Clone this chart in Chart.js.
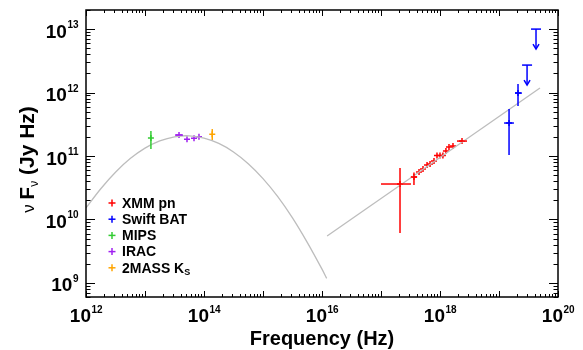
<!DOCTYPE html>
<html>
<head>
<meta charset="utf-8">
<script src="https://cdn.jsdelivr.net/npm/chart.js@4"></script>
<style>
  html, body { margin: 0; padding: 0; background: #fff; }
  #wrap { width: 583px; height: 350px; position: relative; }
</style>
</head>
<body>
<div id="wrap"><canvas id="sed"></canvas></div>
<script>
// dust model (grey curve)
const modelFreq = [1e12, 1.78e12, 3.16e12, 5.62e12, 1e13, 1.78e13, 3.16e13, 5.62e13, 1e14,
                   1.78e14, 3.16e14, 5.62e14, 1e15, 1.78e15, 3.16e15, 5.62e15, 1e16, 1.2e16];
const modelFlux = [1.52e10, 3.05e10, 5.55e10, 9.10e10, 1.33e11, 1.73e11, 2.01e11, 2.08e11, 1.92e11,
                   1.58e11, 1.16e11, 7.57e10, 4.41e10, 2.29e10, 1.06e10, 4.36e9, 1.65e9, 1.18e9];
// power law (grey line)
const plFreq = [1.22e16, 4.95e19];
const plFlux = [5.5e9, 1.18e12];

// XMM pn
const xmmFreq = [2.10e17, 3.62e17, 4.41e17, 5.15e17, 6.03e17, 6.78e17, 7.91e17, 8.89e17,
                 1.0e18, 1.12e18, 1.26e18, 1.42e18, 1.66e18, 2.36e18];
const xmmFlux = [3.62e10, 4.67e10, 5.60e10, 6.24e10, 7.21e10, 7.48e10, 8.34e10, 1.02e11,
                 1.02e11, 1.02e11, 1.20e11, 1.39e11, 1.44e11, 1.72e11];
const xmmFreqLo = [1.0e17, 3.2e17, null, null, null, null, null, null, null, null, null, null, null, 1.94e18];
const xmmFreqHi = [3.22e17, 4.1e17, null, null, null, null, null, null, null, null, null, null, null, 2.87e18];
const xmmFluxLo = [6.12e9, 3.5e10, null, null, null, null, null, null, null, null, null, null, null, null];
const xmmFluxHi = [6.47e10, 5.5e10, null, null, null, null, null, null, null, null, null, null, null, null];

// Swift BAT
const batFreq = [1.48e19, 2.10e19];
const batFlux = [3.31e11, 9.82e11];
const batFreqLo = [1.22e19, 1.87e19];
const batFreqHi = [1.79e19, 2.45e19];
const batFluxLo = [1.04e11, 6.12e11];
const batFluxHi = [5.5e11, 1.36e12];
const batLimFreq = [2.99e19, 4.24e19];
const batLimFlux = [2.71e12, 1.0e13];

// MIPS 24um
const mipsFreq = [1.26e13];
const mipsFlux = [1.92e11];
const mipsFluxLo = [1.29e11];
const mipsFluxHi = [2.48e11];

// IRAC
const iracFreq = [3.77e13, 5.15e13, 6.77e13, 8.22e13];
const iracFlux = [2.14e11, 1.83e11, 1.90e11, 2.01e11];
const iracFreqLo = [3.22e13, null, null, null];
const iracFreqHi = [4.41e13, null, null, null];

// 2MASS Ks
const tmFreq = [1.38e14];
const tmFlux = [2.20e11];
const tmFluxLo = [1.79e11];
const tmFluxHi = [2.66e11];

const legendNames = ['XMM pn', 'Swift BAT', 'MIPS', 'IRAC', '2MASS K'];
const legendColors = ['#ff0000', '#0000ff', '#33cc33', '#a020f0', '#ffa500'];

const FONT = '"Liberation Sans", Arial, sans-serif';

function pts(xs, ys) { return xs.map((x, i) => ({ x: x, y: ys[i] })); }

function crossSet(label, xs, ys, color) {
    return {
        label: label, data: pts(xs, ys), showLine: false,
        pointStyle: 'cross', pointRadius: 3, pointBorderWidth: 1.5,
        borderColor: color, backgroundColor: color
    };
}

function line(ctx, x1, y1, x2, y2) {
    ctx.beginPath(); ctx.moveTo(x1, y1); ctx.lineTo(x2, y2); ctx.stroke();
}

function errBars(chart, xs, ys, xLo, xHi, yLo, yHi, color) {
    const ctx = chart.ctx, sx = chart.scales.x, sy = chart.scales.y;
    ctx.save();
    ctx.strokeStyle = color; ctx.lineWidth = 1.5;
    xs.forEach((x, i) => {
        const px = sx.getPixelForValue(x), py = sy.getPixelForValue(ys[i]);
        if (xLo && xLo[i] != null) line(ctx, sx.getPixelForValue(xLo[i]), py, sx.getPixelForValue(xHi[i]), py);
        if (yLo && yLo[i] != null) line(ctx, px, sy.getPixelForValue(yLo[i]), px, sy.getPixelForValue(yHi[i]));
    });
    ctx.restore();
}

function logTicks(min, max) {
    const out = [];
    for (let e = Math.floor(Math.log10(min)); e <= Math.ceil(Math.log10(max)); e++) {
        for (let m = 1; m <= 9; m++) {
            const v = m * Math.pow(10, e);
            if (v >= min * 0.999 && v <= max * 1.001) out.push({ v: v, major: m === 1, e: e });
        }
    }
    return out;
}

// "10" with superscript exponent
function powLabel(ctx, e, x, y, align, big, small) {
    ctx.font = 'bold ' + big + 'px ' + FONT;
    const w1 = ctx.measureText('10').width;
    ctx.font = 'bold ' + small + 'px ' + FONT;
    const w2 = ctx.measureText(String(e)).width;
    let x0 = align === 'center' ? x - (w1 + w2) / 2 : x - w1 - w2;
    ctx.textAlign = 'left'; ctx.textBaseline = 'alphabetic';
    ctx.font = 'bold ' + big + 'px ' + FONT;
    ctx.fillText('10', x0, y);
    ctx.font = 'bold ' + small + 'px ' + FONT;
    ctx.fillText(String(e), x0 + w1 + 0.5, y - big * 0.5);
}

const overlay = {
    id: 'overlay',
    afterDatasetsDraw(chart) {
        errBars(chart, xmmFreq, xmmFlux, xmmFreqLo, xmmFreqHi, xmmFluxLo, xmmFluxHi, legendColors[0]);
        errBars(chart, batFreq, batFlux, batFreqLo, batFreqHi, batFluxLo, batFluxHi, legendColors[1]);
        errBars(chart, mipsFreq, mipsFlux, null, null, mipsFluxLo, mipsFluxHi, legendColors[2]);
        errBars(chart, iracFreq, iracFlux, iracFreqLo, iracFreqHi, null, null, legendColors[3]);
        errBars(chart, tmFreq, tmFlux, null, null, tmFluxLo, tmFluxHi, legendColors[4]);

        // BAT upper limits
        const ctx = chart.ctx, sx = chart.scales.x, sy = chart.scales.y;
        ctx.save();
        ctx.strokeStyle = legendColors[1]; ctx.lineWidth = 1.5;
        batLimFreq.forEach((f, i) => {
            const px = sx.getPixelForValue(f), py = sy.getPixelForValue(batLimFlux[i]);
            line(ctx, px - 5, py, px + 5, py);
            line(ctx, px, py, px, py + 20);
            ctx.beginPath();
            ctx.moveTo(px - 3, py + 15); ctx.lineTo(px, py + 20); ctx.lineTo(px + 3, py + 15);
            ctx.stroke();
        });
        ctx.restore();
    },
    afterDraw(chart) {
        const ctx = chart.ctx, a = chart.chartArea, sx = chart.scales.x, sy = chart.scales.y;
        ctx.save();
        ctx.fillStyle = '#000'; ctx.strokeStyle = '#000';

        // inward ticks on all four sides
        ctx.lineWidth = 1;
        logTicks(sx.min, sx.max).forEach(t => {
            const px = Math.round(sx.getPixelForValue(t.v)) + 0.5;
            const len = t.major ? 6 : 3;
            line(ctx, px, a.bottom, px, a.bottom - len);
            line(ctx, px, a.top, px, a.top + len);
        });
        logTicks(sy.min, sy.max).forEach(t => {
            const py = Math.round(sy.getPixelForValue(t.v)) + 0.5;
            const len = t.major ? 9 : 4.5;
            line(ctx, a.left, py, a.left + len, py);
            line(ctx, a.right, py, a.right - len, py);
        });

        // frame
        ctx.lineWidth = 1.5;
        ctx.strokeRect(a.left, a.top, a.right - a.left, a.bottom - a.top);

        // tick labels
        for (let e = 12; e <= 20; e += 2) {
            powLabel(ctx, e, sx.getPixelForValue(Math.pow(10, e)), a.bottom + 25, 'center', 19, 10);
        }
        for (let e = 9; e <= 13; e++) {
            powLabel(ctx, e, a.left - 8, sy.getPixelForValue(Math.pow(10, e)) + 8.5, 'right', 19, 10);
        }

        // axis titles
        ctx.font = 'bold 20px ' + FONT;
        ctx.textAlign = 'center'; ctx.textBaseline = 'alphabetic';
        ctx.fillText('Frequency (Hz)', (a.left + a.right) / 2, 345);

        ctx.save();
        ctx.translate(34, (a.top + a.bottom) / 2 + 6);
        ctx.rotate(-Math.PI / 2);
        const parts = [['ν ', 'normal 17px ', 0], ['F', 'bold 21px ', 0], ['ν', 'normal 12px ', 4],
                       [' (Jy Hz)', 'bold 21px ', 0]];
        let total = 0;
        parts.forEach(p => { ctx.font = p[1] + FONT; total += ctx.measureText(p[0]).width; });
        let cx = -total / 2;
        ctx.textAlign = 'left';
        parts.forEach(p => {
            ctx.font = p[1] + FONT;
            ctx.fillText(p[0], cx, p[2]);
            cx += ctx.measureText(p[0]).width;
        });
        ctx.restore();

        // legend
        legendNames.forEach((name, i) => {
            const y = 203 + i * 16.2;
            const lx = a.left + 26;
            ctx.strokeStyle = legendColors[i]; ctx.lineWidth = 1.5;
            line(ctx, lx - 3.5, y, lx + 3.5, y);
            line(ctx, lx, y - 3.5, lx, y + 3.5);
            ctx.fillStyle = '#000';
            ctx.font = 'bold 14px ' + FONT;
            ctx.textAlign = 'left'; ctx.textBaseline = 'middle';
            ctx.fillText(name, lx + 10, y + 1);
            if (i === 4) {
                const w = ctx.measureText(name).width;
                ctx.font = 'bold 9px ' + FONT;
                ctx.fillText('S', lx + 10 + w, y + 5);
            }
        });
        ctx.restore();
    }
};

new Chart(document.getElementById('sed'), {
    type: 'scatter',
    data: {
        datasets: [
            { label: 'model', data: pts(modelFreq, modelFlux), showLine: true, pointRadius: 0,
              borderColor: '#bdbdbd', borderWidth: 1.3, tension: 0.3 },
            { label: 'power law', data: pts(plFreq, plFlux), showLine: true, pointRadius: 0,
              borderColor: '#bdbdbd', borderWidth: 1.3 },
            crossSet('XMM pn', xmmFreq, xmmFlux, legendColors[0]),
            crossSet('Swift BAT', batFreq, batFlux, legendColors[1]),
            crossSet('MIPS', mipsFreq, mipsFlux, legendColors[2]),
            crossSet('IRAC', iracFreq, iracFlux, legendColors[3]),
            crossSet('2MASS Ks', tmFreq, tmFlux, legendColors[4])
        ]
    },
    options: {
        responsive: true,
        maintainAspectRatio: false,
        animation: false,
        layout: { padding: { left: 86, right: 25, top: 10, bottom: 53 } },
        scales: {
            x: { type: 'logarithmic', min: 1e12, max: 1e20, display: false },
            y: { type: 'logarithmic', min: 6e8, max: 2e13, display: false }
        },
        plugins: { legend: { display: false }, tooltip: { enabled: false } }
    },
    plugins: [overlay]
});
</script>
</body>
</html>
